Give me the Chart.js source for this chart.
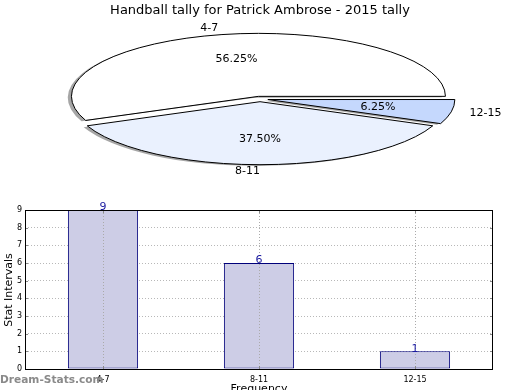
<!DOCTYPE html>
<html>
<head>
<meta charset="utf-8">
<script src="https://cdn.jsdelivr.net/npm/chart.js@4.4.0/dist/chart.umd.min.js"></script>
<style>
  body { margin: 0; background: #fff; }
  #wrap { position: relative; width: 520px; height: 390px; overflow: hidden; font-family: "DejaVu Sans", sans-serif; }
  #title { position: absolute; left: 0; top: 2px; width: 520px; text-align: center; font-size: 13px; color: #000; }
  #pieBox { position: absolute; left: 0; top: 0; width: 520px; height: 200px; }
  #barBox { position: absolute; left: 0; top: 200px; width: 520px; height: 190px; }
  #mark { position: absolute; left: 0; top: 373px; font-size: 10.6px; font-weight: bold; color: #8a8a8a; }
</style>
</head>
<body>
<div id="wrap">
  <div id="pieBox"><canvas id="pie" width="520" height="200"></canvas></div>
  <div id="barBox"><canvas id="bar" width="520" height="190"></canvas></div>
  <div id="title">Handball tally for Patrick Ambrose - 2015 tally</div>
  <div id="mark">Dream-Stats.com</div>
</div>
<script>
// interval categories and how often each came up
const intervals = ["4-7", "8-11", "12-15"];
const counts = [9, 6, 1];
const yTicks = [0, 1, 2, 3, 4, 5, 6, 7, 8, 9];
const sliceColors = ["#ffffff", "#eaf1fe", "#c5d8fd"];

const total = counts.reduce((a, b) => a + b, 0);
// matplotlib goes counter-clockwise from 3 o'clock, chart.js goes clockwise -> reverse
const pieLabels = intervals.slice().reverse();
const pieValues = counts.slice().reverse();
const pieColors = sliceColors.slice().reverse();

const pieRadius = 187;
const squash = 63 / 187; // flatten the pie into the ellipse
const explode = 8;

const squashPlugin = {
  id: "squash",
  afterUpdate(chart) {
    // chart.js also grows an offset arc's radius, take that back out
    chart.getDatasetMeta(0).data.forEach((arc) => {
      const fix = 1 - Math.sin(Math.min(Math.PI, arc.circumference));
      arc.outerRadius = pieRadius - explode * fix;
    });
  },
  beforeDatasetsDraw(chart) {
    const ctx = chart.ctx;
    const a = chart.chartArea;
    const cx = (a.left + a.right) / 2, cy = (a.top + a.bottom) / 2;
    ctx.save();
    ctx.translate(cx, cy);
    ctx.scale(1, squash);
    ctx.translate(-cx, -cy);
    // shadows first, under every wedge
    chart.getDatasetMeta(0).data.forEach((arc) => {
      const o = arc.options;
      arc.options = { ...o, backgroundColor: "rgba(77,77,77,0.5)" };
      ctx.save();
      ctx.translate(-3.7, 1.3 / squash);
      arc.draw(ctx);
      ctx.restore();
      arc.options = o;
    });
  },
  afterDatasetsDraw(chart) {
    const ctx = chart.ctx;
    ctx.restore();
    const arcs = chart.getDatasetMeta(0).data;
    ctx.save();
    // outlines drawn unsquashed so the line stays 1px all round
    ctx.strokeStyle = "#000";
    ctx.lineWidth = 1;
    arcs.forEach((arc) => {
      const mid = (arc.startAngle + arc.endAngle) / 2;
      const x = arc.x + Math.cos(mid) * explode;
      const y = arc.y + Math.sin(mid) * explode * squash;
      ctx.beginPath();
      ctx.moveTo(x, y);
      ctx.ellipse(x, y, pieRadius, pieRadius * squash, 0, arc.startAngle, arc.endAngle);
      ctx.closePath();
      ctx.stroke();
    });
    // labels outside and percentages inside, as in matplotlib
    ctx.fillStyle = "#000";
    ctx.font = '11px "DejaVu Sans"';
    ctx.textBaseline = "middle";
    arcs.forEach((arc, i) => {
      const mid = (arc.startAngle + arc.endAngle) / 2;
      const c = Math.cos(mid), s = Math.sin(mid);
      let d = pieRadius * 1.1 + explode;
      ctx.textAlign = c > 1e-6 ? "left" : "right";
      ctx.fillText(pieLabels[i], arc.x + c * d, arc.y + s * d * squash);
      d = pieRadius * 0.6 + explode;
      ctx.textAlign = "center";
      const pct = (pieValues[i] / total * 100).toFixed(2) + "%";
      ctx.fillText(pct, arc.x + c * d, arc.y + s * d * squash);
    });
    ctx.restore();
  }
};

new Chart(document.getElementById("pie"), {
  type: "pie",
  plugins: [squashPlugin],
  data: {
    labels: pieLabels,
    datasets: [{
      data: pieValues,
      backgroundColor: pieColors,
      borderColor: "rgba(0,0,0,0)",
      borderWidth: 0,
      offset: explode * 4, // arcs get moved by offset / 4
      clip: false
    }]
  },
  options: {
    responsive: false,
    animation: false,
    events: [],
    rotation: 90,
    radius: pieRadius,
    layout: { padding: { top: 0, bottom: 2 } },
    plugins: { legend: { display: false }, tooltip: { enabled: false } }
  }
});

const barExtras = {
  id: "barExtras",
  afterDatasetsDraw(chart) {
    // vertical dotted grid sits on top of the bars
    const ctx = chart.ctx;
    const a = chart.chartArea;
    const xs = chart.scales.x;
    ctx.save();
    ctx.strokeStyle = "#aaaaaa";
    ctx.lineWidth = 1;
    ctx.setLineDash([1, 2]);
    intervals.forEach((_, i) => {
      const x = Math.round(xs.getPixelForTick(i)) + 0.5;
      ctx.beginPath();
      ctx.moveTo(x, a.top);
      ctx.lineTo(x, a.bottom);
      ctx.stroke();
    });
    ctx.restore();
  },
  afterDraw(chart) {
    const ctx = chart.ctx;
    const a = chart.chartArea;
    const ys = chart.scales.y, xs = chart.scales.x;
    ctx.save();
    // small inside tick marks on all four sides
    ctx.strokeStyle = "#888";
    ctx.lineWidth = 1;
    ctx.beginPath();
    yTicks.forEach(v => {
      const y = Math.round(ys.getPixelForValue(v)) + 0.5;
      ctx.moveTo(a.left, y); ctx.lineTo(a.left + 3, y);
      ctx.moveTo(a.right - 3, y); ctx.lineTo(a.right, y);
    });
    intervals.forEach((_, i) => {
      const x = Math.round(xs.getPixelForTick(i)) + 0.5;
      ctx.moveTo(x, a.bottom); ctx.lineTo(x, a.bottom - 3);
      ctx.moveTo(x, a.top); ctx.lineTo(x, a.top + 3);
    });
    ctx.stroke();
    // axes frame
    ctx.strokeStyle = "#000";
    ctx.strokeRect(a.left + 0.5, a.top + 0.5, a.right - a.left - 1, a.bottom - a.top);
    // value labels
    const meta = chart.getDatasetMeta(0);
    ctx.fillStyle = "#1a1aa0";
    ctx.font = '11px "DejaVu Sans"';
    ctx.textAlign = "center";
    ctx.textBaseline = "bottom";
    meta.data.forEach((bar, i) => {
      ctx.fillText(String(counts[i]), bar.x, bar.y + 3);
    });
    // axis titles
    ctx.fillStyle = "#000";
    ctx.textBaseline = "top";
    ctx.fillText("Frequency", (a.left + a.right) / 2, 184);
    ctx.translate(9, 90);
    ctx.rotate(-Math.PI / 2);
    ctx.textBaseline = "middle";
    ctx.fillText("Stat Intervals", 0, 0);
    ctx.restore();
  }
};

new Chart(document.getElementById("bar"), {
  type: "bar",
  plugins: [barExtras],
  data: {
    labels: intervals,
    datasets: [{
      data: counts,
      backgroundColor: "#cdcde6",
      borderColor: "#00007a",
      borderWidth: 1,
      borderSkipped: false,
      barPercentage: 0.45,
      categoryPercentage: 1
    }]
  },
  options: {
    responsive: false,
    animation: false,
    events: [],
    layout: { padding: { top: 10, right: 27, left: 0, bottom: 0 } },
    plugins: { legend: { display: false }, tooltip: { enabled: false } },
    scales: {
      x: {
        offset: true,
        grid: { display: false },
        border: { display: false },
        ticks: { color: "#000", font: { size: 8, family: "DejaVu Sans" }, padding: -2, maxRotation: 0 },
        afterFit: (s) => { s.height = 21; }
      },
      y: {
        min: 0,
        max: 9,
        afterBuildTicks: (s) => { s.ticks = yTicks.map(v => ({ value: v })); },
        grid: { color: "#b8b8b8", drawTicks: false },
        border: { display: false, dash: [1, 2] },
        ticks: { color: "#000", font: { size: 8, family: "DejaVu Sans" }, padding: 3 },
        afterFit: (s) => { s.width = 25; }
      }
    }
  }
});
</script>
</body>
</html>
